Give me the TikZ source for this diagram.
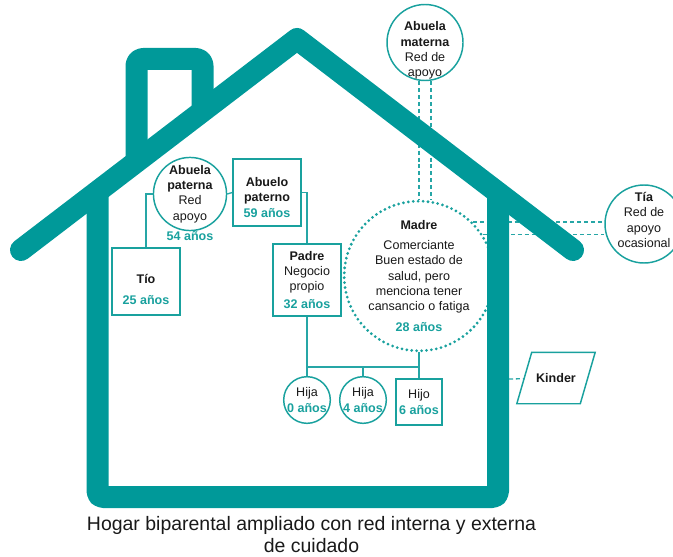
\documentclass[tikz,border=0pt]{standalone}
\usepackage{fontspec}
\setmainfont{Liberation Sans}

\begin{document}
\begin{tikzpicture}[x=0.75pt,y=-0.75pt,
  per/.style={draw=cv,line width=1.1pt,fill=cfv,text=clv,align=center,inner sep=0pt,font=\fontsize{9.4}{11.5}\selectfont},
  edad/.style={text=ca,font=\bfseries\fontsize{9.4}{11.5}\selectfont},
  lnk/.style={draw=ce,line width=1pt},
  apoyo/.style={lnk,dash pattern=on 3pt off 2.2pt},
  punteado/.style={dash pattern=on 0pt off 3.7pt,line cap=round,line width=2.3pt},
  casa/.style={draw=ch,line width=16.5pt,line join=round}]
\useasboundingbox (0,0) rectangle (673,556);
\definecolor{ch}{rgb}{0.0,0.6,0.6}
\definecolor{cv}{rgb}{0.1,0.63,0.62}
\definecolor{cfv}{rgb}{1.0,1.0,1.0}
\definecolor{clv}{rgb}{0.1,0.1,0.1}
\definecolor{ca}{rgb}{0.1,0.63,0.62}
\definecolor{ce}{rgb}{0.15,0.65,0.65}
%
\node[per,circle,minimum size=54pt,label distance=1pt,label={[edad,inner sep=0pt]below:54 años}] (abp) at (190,194) {\textbf{Abuela}\\\textbf{paterna}\\Red\\apoyo};
\node[per,minimum width=51pt,minimum height=50.25pt] (abo) at (267,192.5) {\rule{0pt}{14pt}\textbf{Abuelo}\\\textbf{paterno}\\\textcolor{ca}{\textbf{59 años}}};
\node[per,minimum width=51pt,minimum height=50.25pt] (tio) at (146,281.5) {\rule{0pt}{19pt}\textbf{Tío}\\[4pt]\textcolor{ca}{\textbf{25 años}}};
\node[per,minimum width=51pt,minimum height=54pt] (pad) at (307,280) {\textbf{Padre}\\Negocio\\propio\\[2pt]\textcolor{ca}{\textbf{32 años}}};
\node[per,circle,minimum size=106.5pt,punteado] (mad) at (419,276) {\textbf{Madre}\\[3.4pt]Comerciante\\Buen estado de\\salud, pero\\menciona tener\\cansancio o fatiga\\[4pt]\textcolor{ca}{\textbf{28 años}}};
\node[per,circle,minimum size=34.5pt] (hj0) at (307,400) {Hija\\\textcolor{ca}{\textbf{0 años}}};
\node[per,circle,minimum size=34.5pt] (hj4) at (363,400) {Hija\\\textcolor{ca}{\textbf{4 años}}};
\node[per,minimum size=34.5pt] (hjo) at (419,402) {Hijo\\\textcolor{ca}{\textbf{6 años}}};
\node[per,circle,minimum size=57pt,inner ysep=-6pt] (abm) at (425,42.5) {\rule{0pt}{19pt}\textbf{Abuela}\\\textbf{materna}\\Red de\\apoyo};
\node[per,circle,minimum size=58.5pt,inner ysep=-3pt] (tia) at (644,224) {\textbf{Tía}\\Red de\\apoyo\\ocasional\rule[-6pt]{0pt}{0pt}};
\node[per,draw=none,fill=none,minimum width=46.5pt,minimum height=37.5pt] (kin) at (556,378) {\textbf{Kinder}};
\node[font=\fontsize{14.6}{17.1}\selectfont,align=center,text=clv] (tit) at (311.5,534.5) {Hogar biparental ampliado con red interna y externa\\de cuidado};
\coordinate (hbar) at (363,367);
\coordinate (pared) at (509,379);
%
\draw[per,fill=none] ([xshift=-5.6pt]kin.south west) -- ([xshift=5.6pt]kin.north west) -- ([xshift=5.6pt]kin.north east) -- ([xshift=-5.6pt]kin.south east) -- cycle;
%
\draw[lnk] (abp.west) -| (tio.north);
\draw[lnk] (abp.east) -- (abo.west);
\draw[lnk] (abo.east) -| (pad.north);
\draw[lnk] (pad.south) -- (hj0.north);
\draw[lnk] (mad.south) -- (hjo.north);
\draw[lnk] (pad.south |- hbar) -- (mad.south |- hbar);
\draw[lnk] (hbar) -- (hj4.north);
\draw[apoyo] ([xshift=-4.5pt]abm.south) -- ([xshift=-4.5pt]abm.south |- mad.north);
\draw[apoyo] ([xshift=4.5pt]abm.south) -- ([xshift=4.5pt]abm.south |- mad.north);
\draw[apoyo] (mad.45) -- (mad.45 -| tia.west);
\draw[apoyo] (mad.33) -- (mad.33 -| tia.west);
\draw[apoyo] (pared) -- (kin);
%
\draw[casa,line cap=round] (21,250) -- (297,39) -- (573,250);
\draw[casa,rounded corners=4pt] (97.5,193) -- (97.5,497) -- (498,497) -- (498,193);
\draw[casa,rounded corners=5pt] (136.5,163) -- (136.5,59) -- (202.5,59) -- (202.5,112);
%
\end{tikzpicture}
\end{document}
